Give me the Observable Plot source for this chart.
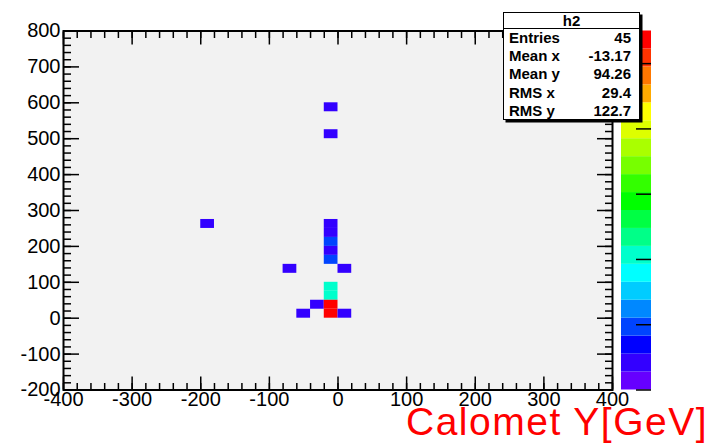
<!DOCTYPE html>
<html>
<head>
<meta charset="utf-8">
<script src="https://cdn.jsdelivr.net/npm/d3@7"></script>
<script src="https://cdn.jsdelivr.net/npm/@observablehq/plot@0.6"></script>
<style>
  html, body { margin: 0; padding: 0; background: #ffffff; }
  #wrap { position: relative; width: 714px; height: 443px; overflow: hidden; font-family: "Liberation Sans", Arial, sans-serif; }
  #wrap > svg, #wrap > .cb { position: absolute; top: 0; }
  .stats { position: absolute; left: 503px; top: 12px; width: 135px; height: 106px; background: #fff;
           border: 1.5px solid #000; box-shadow: 2.5px 2.5px 0 #000; font-weight: bold; font-size: 15px; color: #000; }
  .stats .title { height: 15px; line-height: 15px; text-align: center; border-bottom: 1.5px solid #000; }
  .stats .row { height: 18.2px; line-height: 18.2px; padding: 0 8px 0 5px; display: flex; justify-content: space-between; }
  .label { position: absolute; left: 406px; top: 404px; font-size: 39px; letter-spacing: 1.5px; line-height: 35px; color: #ff0000; white-space: nowrap; }
</style>
</head>
<body>
<div id="wrap"></div>
<script>
// ---- data ----
const cellX = [-20, -20, -200, -20, -20, -20, -20, -20, -80, 0, -20, -20, -40, -20, -20, -60, 0];   // bin lower edges (x)
const cellY = [575, 500, 250, 250, 225, 200, 175, 150, 125, 125, 75, 50, 25, 25, 0, 0, 0];        // bin lower edges (y)
const counts = [1, 1, 1, 1, 1, 2, 1, 2, 1, 1, 4, 4, 1, 11, 11, 1, 1];
const binW = 20, binH = 25;
const xMajor = [-400, -300, -200, -100, 0, 100, 200, 300, 400];
const yMajor = [-200, -100, 0, 100, 200, 300, 400, 500, 600, 700, 800];
const zTicks = [0, 2, 4, 6, 8, 10];
const zMax = 11;
const palette = ['#6600ff','#3300ff','#0000ff','#0044ff','#0088ff','#00ccff','#00ffff','#00ffcc','#00ff88','#00ff44',
                 '#00ff00','#33ff00','#77ff00','#aaff00','#ddff00','#ffff00','#ffaa00','#ff7700','#ff3300','#ff0000'];
const statLabels = ["Entries", "Mean x", "Mean y", "RMS x", "RMS y"];
const statValues = ["45", "-13.17", "94.26", "29.4", "122.7"];
const histName = "h2";
const axisTitle = "Calomet Y[GeV]";

// ---- build ----
const cells = counts.map((c, i) => ({x: cellX[i], y: cellY[i], count: c}));
const nBands = palette.length;
const edges = d3.range(nBands + 1).map(i => i * zMax / nBands);
const thresholds = edges.slice(1, -1);
const colorScale = {type: "threshold", domain: thresholds, range: palette};
const xMinor = d3.range(-400, 401, 20);
const yMinor = d3.range(-200, 801, 20);
const fmt = d => String(d);
const FS = 20;

const main = Plot.plot({
  width: 714, height: 443,
  marginLeft: 63, marginRight: 102, marginTop: 30.5, marginBottom: 53.5,
  x: {domain: [-400, 400], label: null},
  y: {domain: [-200, 800], label: null},
  color: colorScale,
  style: {background: "transparent", fontFamily: "'Liberation Sans', Arial, sans-serif"},
  marks: [
    Plot.frame({fill: "#f2f2f2", stroke: null}),
    Plot.rect(cells, {x1: "x", x2: d => d.x + binW, y1: "y", y2: d => d.y + binH, fill: "count", inset: 0}),
    Plot.axisX({anchor: "bottom", ticks: xMinor, tickSize: -6.5, text: null, strokeWidth: 1.5}),
    Plot.axisX({anchor: "bottom", ticks: xMajor, tickSize: -13, text: null, strokeWidth: 1.5}),
    Plot.axisX({anchor: "top", ticks: xMinor, tickSize: -6.5, text: null, strokeWidth: 1.5}),
    Plot.axisX({anchor: "top", ticks: xMajor, tickSize: -13, text: null, strokeWidth: 1.5}),
    Plot.axisY({anchor: "left", ticks: yMinor, tickSize: -8, text: null, strokeWidth: 1.5}),
    Plot.axisY({anchor: "left", ticks: yMajor, tickSize: -16, text: null, strokeWidth: 1.5}),
    Plot.axisY({anchor: "right", ticks: yMinor, tickSize: -8, text: null, strokeWidth: 1.5}),
    Plot.axisY({anchor: "right", ticks: yMajor, tickSize: -16, text: null, strokeWidth: 1.5}),
    Plot.axisX({anchor: "bottom", ticks: xMajor, tickSize: 0, tickPadding: 2, tickFormat: fmt, fontSize: FS}),
    Plot.axisY({anchor: "left", ticks: yMajor, tickSize: 0, tickPadding: 3, tickFormat: fmt, fontSize: FS}),
    Plot.frame({stroke: "#000", strokeWidth: 2})
  ]
});

const bands = d3.range(nBands).map(i => ({lo: edges[i], hi: edges[i + 1]}));
const cb = Plot.plot({
  width: 40, height: 443,
  marginLeft: 0, marginRight: 10, marginTop: 30.5, marginBottom: 53.5,
  x: {domain: [0, 1], axis: null},
  y: {domain: [0, zMax], axis: null},
  color: colorScale,
  style: {background: "transparent"},
  marks: [
    Plot.rect(bands, {x1: 0, x2: 1, y1: "lo", y2: "hi", fill: d => (d.lo + d.hi) / 2, inset: 0}),
    Plot.ruleY(zTicks, {x1: 0.5, x2: 1, stroke: "#000", strokeWidth: 1.5})
  ]
});

const wrap = document.getElementById("wrap");
main.style.left = "0px";
wrap.appendChild(main);
const cbDiv = document.createElement("div");
cbDiv.className = "cb";
cbDiv.style.left = "621px";
cbDiv.appendChild(cb);
wrap.appendChild(cbDiv);

const stats = document.createElement("div");
stats.className = "stats";
const t = document.createElement("div");
t.className = "title";
t.textContent = histName;
stats.appendChild(t);
statLabels.forEach((l, i) => {
  const r = document.createElement("div");
  r.className = "row";
  const a = document.createElement("span"); a.textContent = l;
  const b = document.createElement("span"); b.textContent = statValues[i];
  r.appendChild(a); r.appendChild(b);
  stats.appendChild(r);
});
wrap.appendChild(stats);

const lab = document.createElement("div");
lab.className = "label";
lab.textContent = axisTitle;
wrap.appendChild(lab);
</script>
</body>
</html>
